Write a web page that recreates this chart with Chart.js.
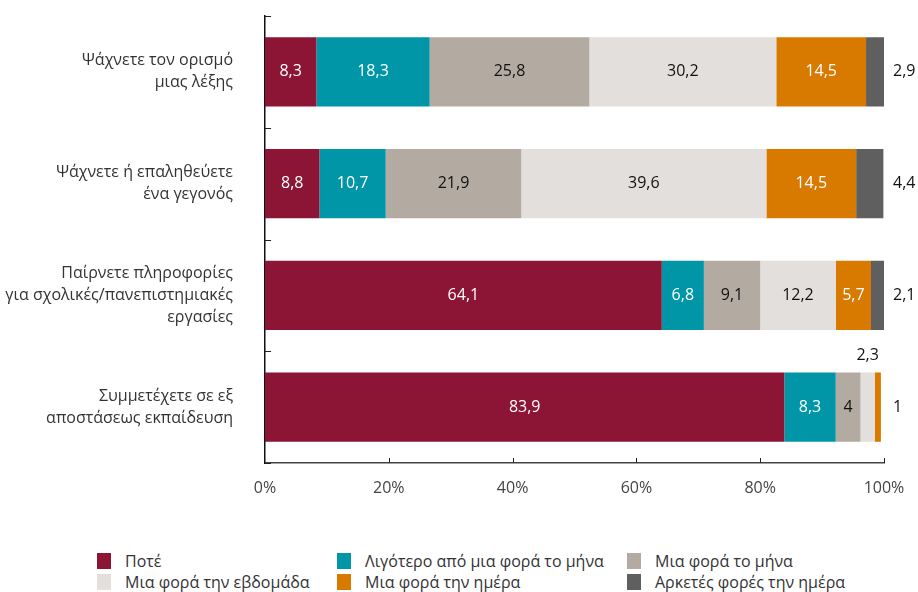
<!DOCTYPE html>
<html>
<head>
<meta charset="utf-8">
<script src="https://cdn.jsdelivr.net/npm/chart.js@4.4.0/dist/chart.umd.min.js"></script>
<style>
    body { margin: 0; background: #fff; font-family: "Open Sans", sans-serif; }
    #wrap { position: relative; width: 918px; height: 592px; }
    #chartBox { position: absolute; left: 0; top: 0; width: 918px; height: 540px; }
    #legend {
        position: absolute; left: 97px; top: 551px;
        display: grid; grid-template-columns: 240px 290px 260px; row-gap: 2px;
        font-size: 16px; color: #333;
    }
    .item { display: flex; align-items: center; height: 19px; white-space: nowrap; }
    .swatch { width: 14px; height: 16px; margin-right: 14px; flex: none; }
</style>
</head>
<body>
<div id="wrap">
    <div id="chartBox"><canvas id="usageChart"></canvas></div>
    <div id="legend"></div>
</div>
<script>
// categories (y axis), one label line per array entry
const categories = [
    ['Ψάχνετε τον ορισμό', 'μιας λέξης'],
    ['Ψάχνετε ή επαληθεύετε', 'ένα γεγονός'],
    ['Παίρνετε πληροφορίες', 'για σχολικές/πανεπιστημιακές', 'εργασίες'],
    ['Συμμετέχετε σε εξ', 'αποστάσεως εκπαίδευση']
];

const seriesNames = [
    'Ποτέ',
    'Λιγότερο από μια φορά το μήνα',
    'Μια φορά το μήνα',
    'Μια φορά την εβδομάδα',
    'Μια φορά την ημέρα',
    'Αρκετές φορές την ημέρα'
];

// percentages per category
const never          = [8.3, 8.8, 64.1, 83.9];
const lessThanMonth  = [18.3, 10.7, 6.8, 8.3];
const oncePerMonth   = [25.8, 21.9, 9.1, 4];
const oncePerWeek    = [30.2, 39.6, 12.2, 2.3];
const oncePerDay     = [14.5, 14.5, 5.7, 1];
const severalPerDay  = [2.9, 4.4, 2.1, 0];

const xTicks = [0, 20, 40, 60, 80, 100];

const seriesColors = ['#8c1536', '#0096a8', '#b3aaa1', '#e3dfdc', '#d97a00', '#5f5f5f'];
const labelColors  = ['#ffffff', '#ffffff', '#111111', '#111111', '#ffffff', '#111111'];

const allSeries = [never, lessThanMonth, oncePerMonth, oncePerWeek, oncePerDay, severalPerDay];

const FONT = '"Open Sans", sans-serif';

function fmt(v) {
    return String(v).replace('.', ',');
}

// numbers on the bars; last segment goes outside, tiny ones above the bar
const valueLabels = {
    id: 'valueLabels',
    afterDatasetsDraw(chart) {
        const ctx = chart.ctx;
        const area = chart.chartArea;
        ctx.save();
        ctx.font = '16px ' + FONT;
        ctx.textBaseline = 'middle';
        categories.forEach((c, i) => {
            let last = -1;
            allSeries.forEach((s, d) => { if (s[i] > 0) last = d; });
            allSeries.forEach((s, d) => {
                const v = s[i];
                if (!v) return;
                const el = chart.getDatasetMeta(d).data[i];
                const w = Math.abs(el.x - el.base);
                if (d === last) {
                    ctx.fillStyle = '#111';
                    ctx.textAlign = 'left';
                    ctx.fillText(fmt(v), area.right + 9, el.y);
                } else if (w < 18) {
                    ctx.fillStyle = '#111';
                    ctx.textAlign = 'center';
                    ctx.fillText(fmt(v), (el.x + el.base) / 2, el.y - el.height / 2 - 17);
                } else {
                    ctx.fillStyle = labelColors[d];
                    ctx.textAlign = 'center';
                    ctx.fillText(fmt(v), (el.x + el.base) / 2, el.y);
                }
            });
        });
        ctx.restore();
    }
};

// short inward tick marks on both axes
const innerTicks = {
    id: 'innerTicks',
    afterDraw(chart) {
        const ctx = chart.ctx;
        const x = chart.scales.x;
        const y = chart.scales.y;
        const area = chart.chartArea;
        ctx.save();
        ctx.strokeStyle = '#222';
        ctx.lineWidth = 1;
        ctx.beginPath();
        xTicks.slice(1).forEach(v => {
            const px = Math.round(x.getPixelForValue(v)) + 0.5;
            ctx.moveTo(px, area.bottom);
            ctx.lineTo(px, area.bottom - 5);
        });
        for (let i = 0; i <= categories.length; i++) {
            let py;
            if (i === 0) py = area.top;
            else if (i === categories.length) py = area.bottom;
            else py = (y.getPixelForValue(i - 1) + y.getPixelForValue(i)) / 2;
            py = Math.round(py) + 0.5;
            ctx.moveTo(area.left, py);
            ctx.lineTo(area.left + 6, py);
        }
        ctx.stroke();
        ctx.restore();
    }
};

const datasets = allSeries.map((s, d) => ({
    label: seriesNames[d],
    data: s,
    backgroundColor: seriesColors[d],
    borderWidth: 0,
    barPercentage: 0.62,
    categoryPercentage: 1
}));

new Chart(document.getElementById('usageChart'), {
    type: 'bar',
    data: { labels: categories, datasets: datasets },
    options: {
        indexAxis: 'y',
        responsive: true,
        maintainAspectRatio: false,
        animation: false,
        layout: { padding: { top: 16, right: 34, left: 0, bottom: 0 } },
        scales: {
            x: {
                stacked: true,
                min: 0,
                max: 100,
                afterBuildTicks: s => { s.ticks = xTicks.map(v => ({ value: v })); },
                afterFit: s => {
                    s.height = 77;
                    s.paddingLeft = 0;
                    s.paddingRight = 0;
                },
                grid: { display: false, drawTicks: false },
                border: { display: true, color: '#444', width: 1.5 },
                ticks: {
                    padding: 16,
                    color: '#444',
                    font: { family: FONT, size: 16 },
                    callback: v => v + '%'
                }
            },
            y: {
                stacked: true,
                afterFit: s => {
                    s.width = 265;
                    s.paddingTop = 0;
                    s.paddingBottom = 0;
                },
                grid: { display: false, drawTicks: false },
                border: { display: true, color: '#111', width: 1.5 },
                ticks: {
                    padding: 32,
                    color: '#333',
                    font: { family: FONT, size: 16, lineHeight: 1.375 }
                }
            }
        },
        plugins: {
            legend: { display: false },
            tooltip: { enabled: false }
        }
    },
    plugins: [valueLabels, innerTicks]
});

// legend in three columns under the chart
const legend = document.getElementById('legend');
seriesNames.forEach((name, d) => {
    const item = document.createElement('div');
    item.className = 'item';
    const sw = document.createElement('span');
    sw.className = 'swatch';
    sw.style.background = seriesColors[d];
    const txt = document.createElement('span');
    txt.textContent = name;
    item.appendChild(sw);
    item.appendChild(txt);
    legend.appendChild(item);
});
</script>
</body>
</html>
